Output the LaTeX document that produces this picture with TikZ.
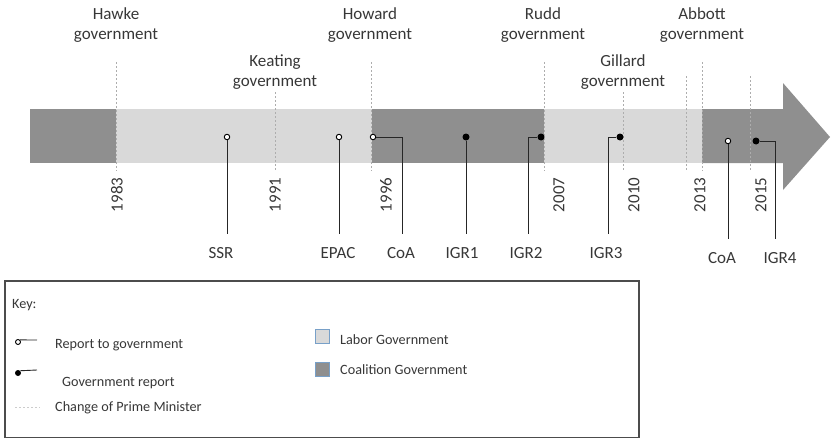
\documentclass[tikz,border=0pt]{standalone}
\usepackage{fontspec}
\setmainfont{Carlito}
\definecolor{coal}{RGB}{143,143,143}
\definecolor{lab}{RGB}{217,217,217}
\definecolor{sqborder}{RGB}{120,160,200}
\definecolor{txt}{RGB}{55,55,55}
\begin{document}
\begin{tikzpicture}[x=1pt,y=-1pt,
  lbl/.style={font=\fontsize{17}{20}\selectfont, text=txt, inner sep=0pt, align=center},
  yr/.style={font=\fontsize{17}{20}\selectfont, text=txt, inner sep=0pt, rotate=90},
  keytxt/.style={font=\fontsize{14.2}{17}\selectfont, text=txt, inner sep=0pt, anchor=west},
  pm/.style={draw=black!32, line width=0.8pt, dash pattern=on 2pt off 2pt},
  opendot/.style={circle, draw=black, fill=white, line width=0.9pt, inner sep=0pt, minimum size=5.5pt},
  fulldot/.style={circle, fill=black, inner sep=0pt, minimum size=7pt},
  stem/.style={draw=black!85, line width=0.9pt},
  keysq/.style={draw=sqborder, line width=1pt, minimum size=14pt, inner sep=0pt},
]
\useasboundingbox (0,0) rectangle (831,439);

% band and arrow
\fill[coal] (30,109) rectangle (116,163);
\fill[lab] (116,109) rectangle (372,163);
\fill[coal] (372,109) rectangle (544,163);
\fill[lab] (544,109) rectangle (702,163);
\fill[coal] (702,109) -- (783,109) -- (783,83) -- (830,137) -- (783,190) -- (783,163) -- (702,163) -- cycle;

% changes of prime minister
\draw[pm] (116,62) -- (116,171);
\draw[pm] (275,92) -- (275,171);
\draw[pm] (371,62) -- (371,171);
\draw[pm] (544,62) -- (544,171);
\draw[pm] (623,92) -- (623,171);
\draw[pm] (686,76) -- (686,171);
\draw[pm] (702,62) -- (702,171);
\draw[pm] (750,76) -- (750,171);

% governments
\node[lbl] (hawke) at (116,25) {Hawke\\government};
\node[lbl] (keating) at (275,72) {Keating\\government};
\node[lbl] (howard) at (370,25) {Howard\\government};
\node[lbl] (rudd) at (543,25) {Rudd\\government};
\node[lbl] (gillard) at (623,72) {Gillard\\government};
\node[lbl] (abbott) at (702,25) {Abbott\\government};

% years
\node[yr] (y1983) at (117,195) {1983};
\node[yr] (y1991) at (275,195) {1991};
\node[yr] (y1996) at (386,195) {1996};
\node[yr] (y2007) at (559,195) {2007};
\node[yr] (y2010) at (634,195) {2010};
\node[yr] (y2013) at (700,195) {2013};
\node[yr] (y2015) at (761,195) {2015};

% reports
\node[opendot] (ssr) at (227,137) {};
\node[opendot] (epac) at (339,137) {};
\node[opendot] (coa1) at (373,137) {};
\node[fulldot] (igr1) at (466,137) {};
\node[fulldot] (igr2) at (541,137) {};
\node[fulldot] (igr3) at (620,137) {};
\node[opendot] (coa2) at (728,141) {};
\node[fulldot] (igr4) at (756,141) {};

\node[lbl] (lssr) at (221,253) {SSR};
\node[lbl] (lepac) at (338,253) {EPAC};
\node[lbl] (lcoa1) at (401,253) {CoA};
\node[lbl] (ligr1) at (462,253) {IGR1};
\node[lbl] (ligr2) at (526,253) {IGR2};
\node[lbl] (ligr3) at (606,253) {IGR3};
\node[lbl] (lcoa2) at (722,258) {CoA};
\node[lbl] (ligr4) at (780,258) {IGR4};

\coordinate (essr) at (227,234);
\coordinate (eepac) at (339,234);
\coordinate (ecoa1) at (402,234);
\coordinate (eigr1) at (466,234);
\coordinate (eigr2) at (528,234);
\coordinate (eigr3) at (608,234);
\coordinate (ecoa2) at (728,239);
\coordinate (eigr4) at (775,239);

\draw[stem] (ssr.south) -- (essr);
\draw[stem] (epac.south) -- (eepac);
\draw[stem] (coa1.east) -| (ecoa1);
\draw[stem] (igr1.south) -- (eigr1);
\draw[stem] (igr2.west) -| (eigr2);
\draw[stem] (igr3.west) -| (eigr3);
\draw[stem] (coa2.south) -- (ecoa2);
\draw[stem] (igr4.east) -| (eigr4);

% key
\draw[draw=black!70, line width=1.2pt] (5,281) rectangle (639,437.5);
\node[keytxt] (key) at (12,305) {Key:};
\node[opendot, minimum size=5pt] (kopen) at (18,342) {};
\coordinate (kopenend) at (37,340);
\draw[stem] (kopen.north east) -- (kopenend);
\node[keytxt] (kreport) at (55,345) {Report to government};
\node[fulldot, minimum size=6pt] (kfull) at (18,373) {};
\coordinate (kfullend) at (37,370);
\draw[stem] (kfull.north east) -- (kfullend);
\node[keytxt] (kgov) at (62,383) {Government report};
\coordinate (kpma) at (15,407);
\coordinate (kpmb) at (40,407);
\draw[pm, draw=black!20] (kpma) -- (kpmb);
\node[keytxt] (kpm) at (55,408) {Change of Prime Minister};
\node[keysq, fill=lab] (klab) at (322.5,336) {};
\node[keytxt] (klabt) at (340,340) {Labor Government};
\node[keysq, fill=coal] (kcoal) at (322.5,369) {};
\node[keytxt] (kcoalt) at (340,370) {Coalition Government};
\end{tikzpicture}
\end{document}
